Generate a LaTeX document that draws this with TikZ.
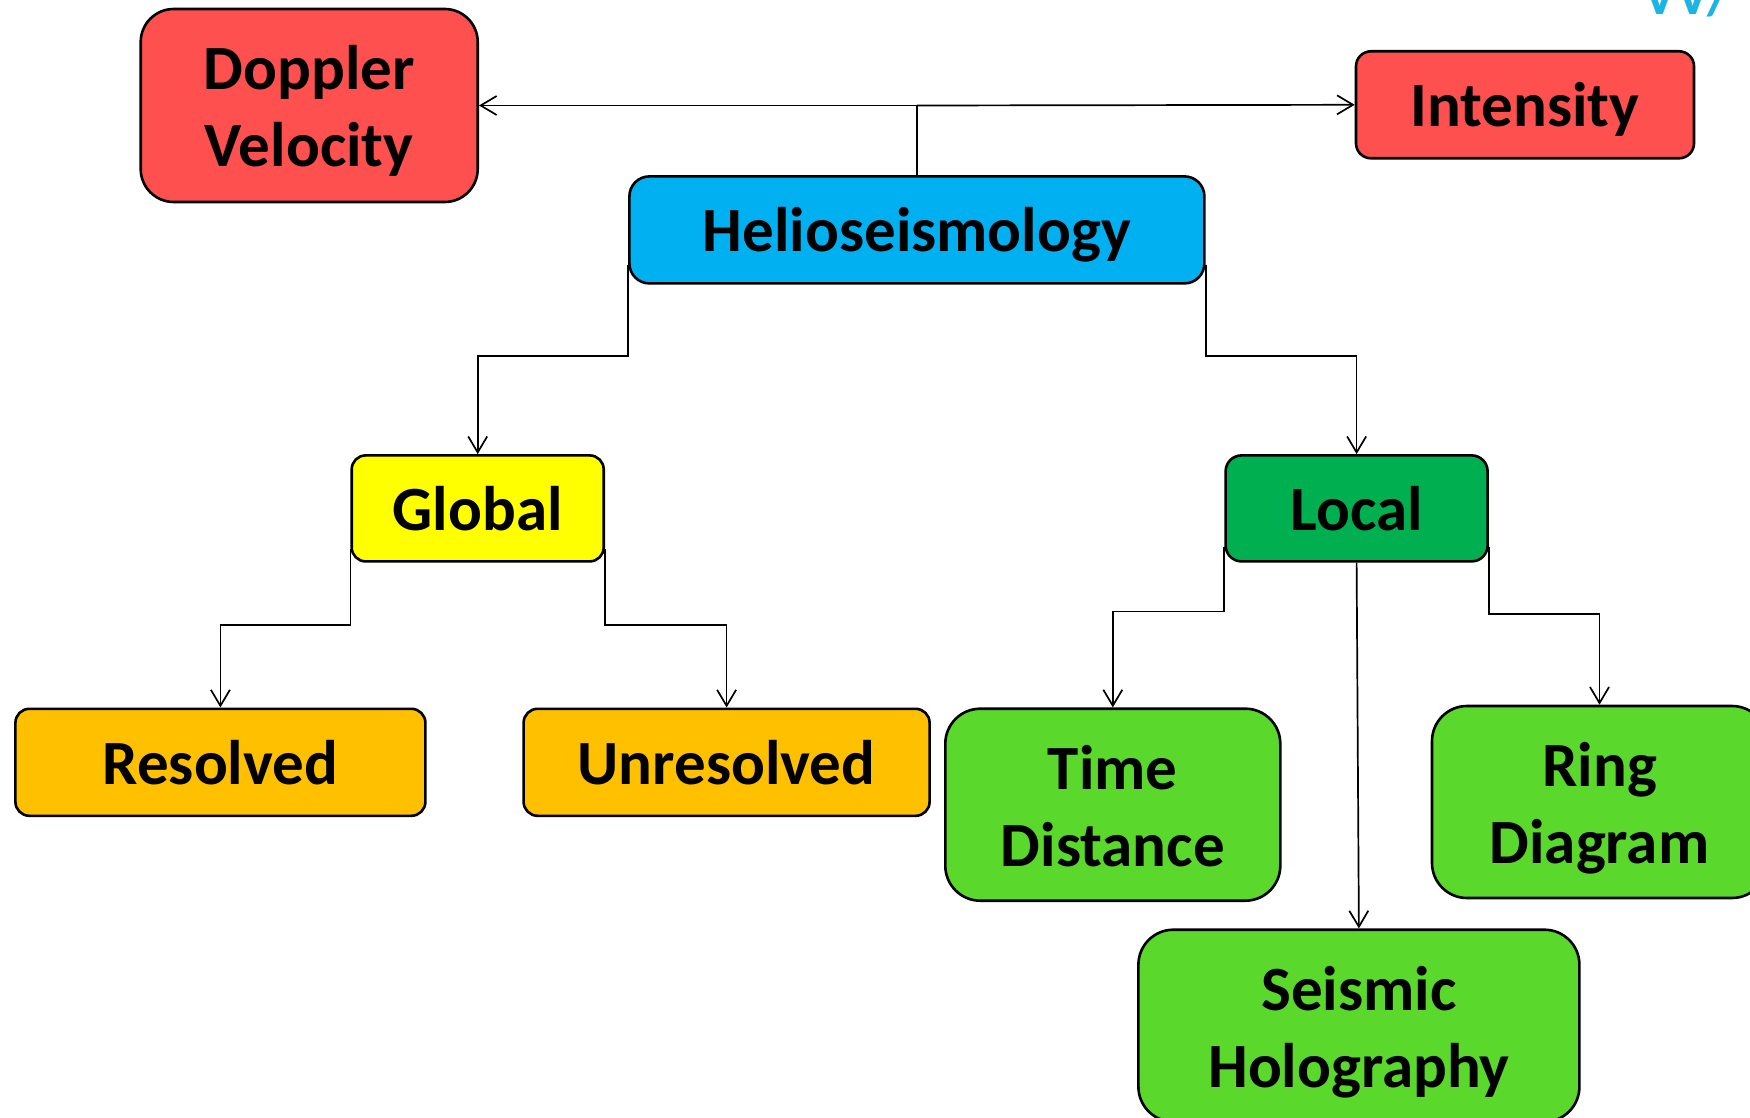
\documentclass[tikz,border=0pt]{standalone}
\usepackage{fontspec}
\setmainfont{Carlito}
\usetikzlibrary{arrows.meta}
\definecolor{cred}{HTML}{FF5050}
\definecolor{ccyan}{HTML}{00B0F0}
\definecolor{cyel}{HTML}{FFFF00}
\definecolor{cdgreen}{HTML}{00B050}
\definecolor{corange}{HTML}{FFC000}
\definecolor{clgreen}{HTML}{5AD82C}
\definecolor{ctxt}{HTML}{1BB4E3}
\newcommand{\mystrutx}{\rule[-0.25em]{0pt}{1.2em}}
\newcommand{\mystruttop}{\rule{0pt}{0.98em}}
\tikzset{
  box/.style={draw=black, line width=2.6pt, align=center, inner sep=0pt,
    font=\fontsize{63}{77}\selectfont\bfseries, anchor=center,
    execute at begin node=\mystrutx, execute at end node=\mystrutx},
  conn/.style={draw=black, line width=1.7pt, -{Straight Barb[length=16pt,width=19pt]}},
  plainconn/.style={draw=black, line width=1.7pt}
}
\begin{document}
\begin{tikzpicture}[x=1pt,y=-1pt]
\useasboundingbox (0,0) rectangle (1750,1118);
\begin{scope}
\clip (0,0) rectangle (1750,1118);
\node[anchor=base west, text=ctxt, font=\fontsize{56}{60}\selectfont\bfseries] (corner) at (1640,15) {VV/};
\node[box, fill=cred, rounded corners=33pt, minimum width=337pt, minimum height=193pt] (dop) at (309.2,105.5) {\mystruttop Doppler\\Velocity};
\node[box, fill=cred, rounded corners=15pt, minimum width=338pt, minimum height=107pt] (int) at (1525,104.8) {Intensity};
\node[box, fill=ccyan, rounded corners=20pt, minimum width=575pt, minimum height=107pt] (helio) at (916.9,229.9) {Helioseismology};
\node[box, fill=cyel, rounded corners=14pt, minimum width=252pt, minimum height=106pt] (glob) at (477.7,508.4) {Global};
\node[box, fill=cdgreen, rounded corners=16pt, minimum width=262pt, minimum height=106pt] (loc) at (1356.6,508.4) {Local};
\node[box, fill=corange, rounded corners=14pt, minimum width=410pt, minimum height=107pt] (res) at (220.4,762.3) {Resolved};
\node[box, fill=corange, rounded corners=14pt, minimum width=406pt, minimum height=107pt] (unres) at (726.6,762.3) {Unresolved};
\node[box, fill=clgreen, rounded corners=35pt, minimum width=335pt, minimum height=192pt] (td) at (1112.8,804.7) {\mystruttop Time\\Distance};
\node[box, fill=clgreen, rounded corners=35pt, minimum width=335pt, minimum height=192pt] (ring) at (1599.5,802) {\mystruttop Ring\\Diagram};
\node[box, fill=clgreen, rounded corners=35pt, minimum width=441pt, minimum height=192pt] (seis) at (1358.9,1025.7) {\mystruttop Seismic\\Holography};
% levels
\coordinate (yh) at (0,356);
\coordinate (yg) at (0,625);
\coordinate (yll) at (0,611.6);
\coordinate (ylr) at (0,614);
\coordinate (jtop) at (helio.north |- dop.east);
% connectors
\draw[plainconn] (helio.north) -- (jtop);
\draw[conn] (jtop) -- (dop.east);
\draw[conn] (jtop) -- (int.west);
\draw[conn] ([yshift=20pt]helio.south west) -- (helio.south west |- yh) -| (glob.north);
\draw[conn] ([yshift=20pt]helio.south east) -- (helio.south east |- yh) -| (loc.north);
\draw[conn] ([yshift=14pt]glob.south west) -- (glob.south west |- yg) -| (res.north);
\draw[conn] ([yshift=14pt]glob.south east) -- (glob.south east |- yg) -| (unres.north);
\draw[conn] ([yshift=16pt]loc.south west) -- (loc.south west |- yll) -| (td.north);
\draw[conn] ([yshift=16pt]loc.south east) -- (loc.south east |- ylr) -| (ring.north);
\draw[conn] (loc.south) -- (seis.north);
\end{scope}
\end{tikzpicture}
\end{document}
